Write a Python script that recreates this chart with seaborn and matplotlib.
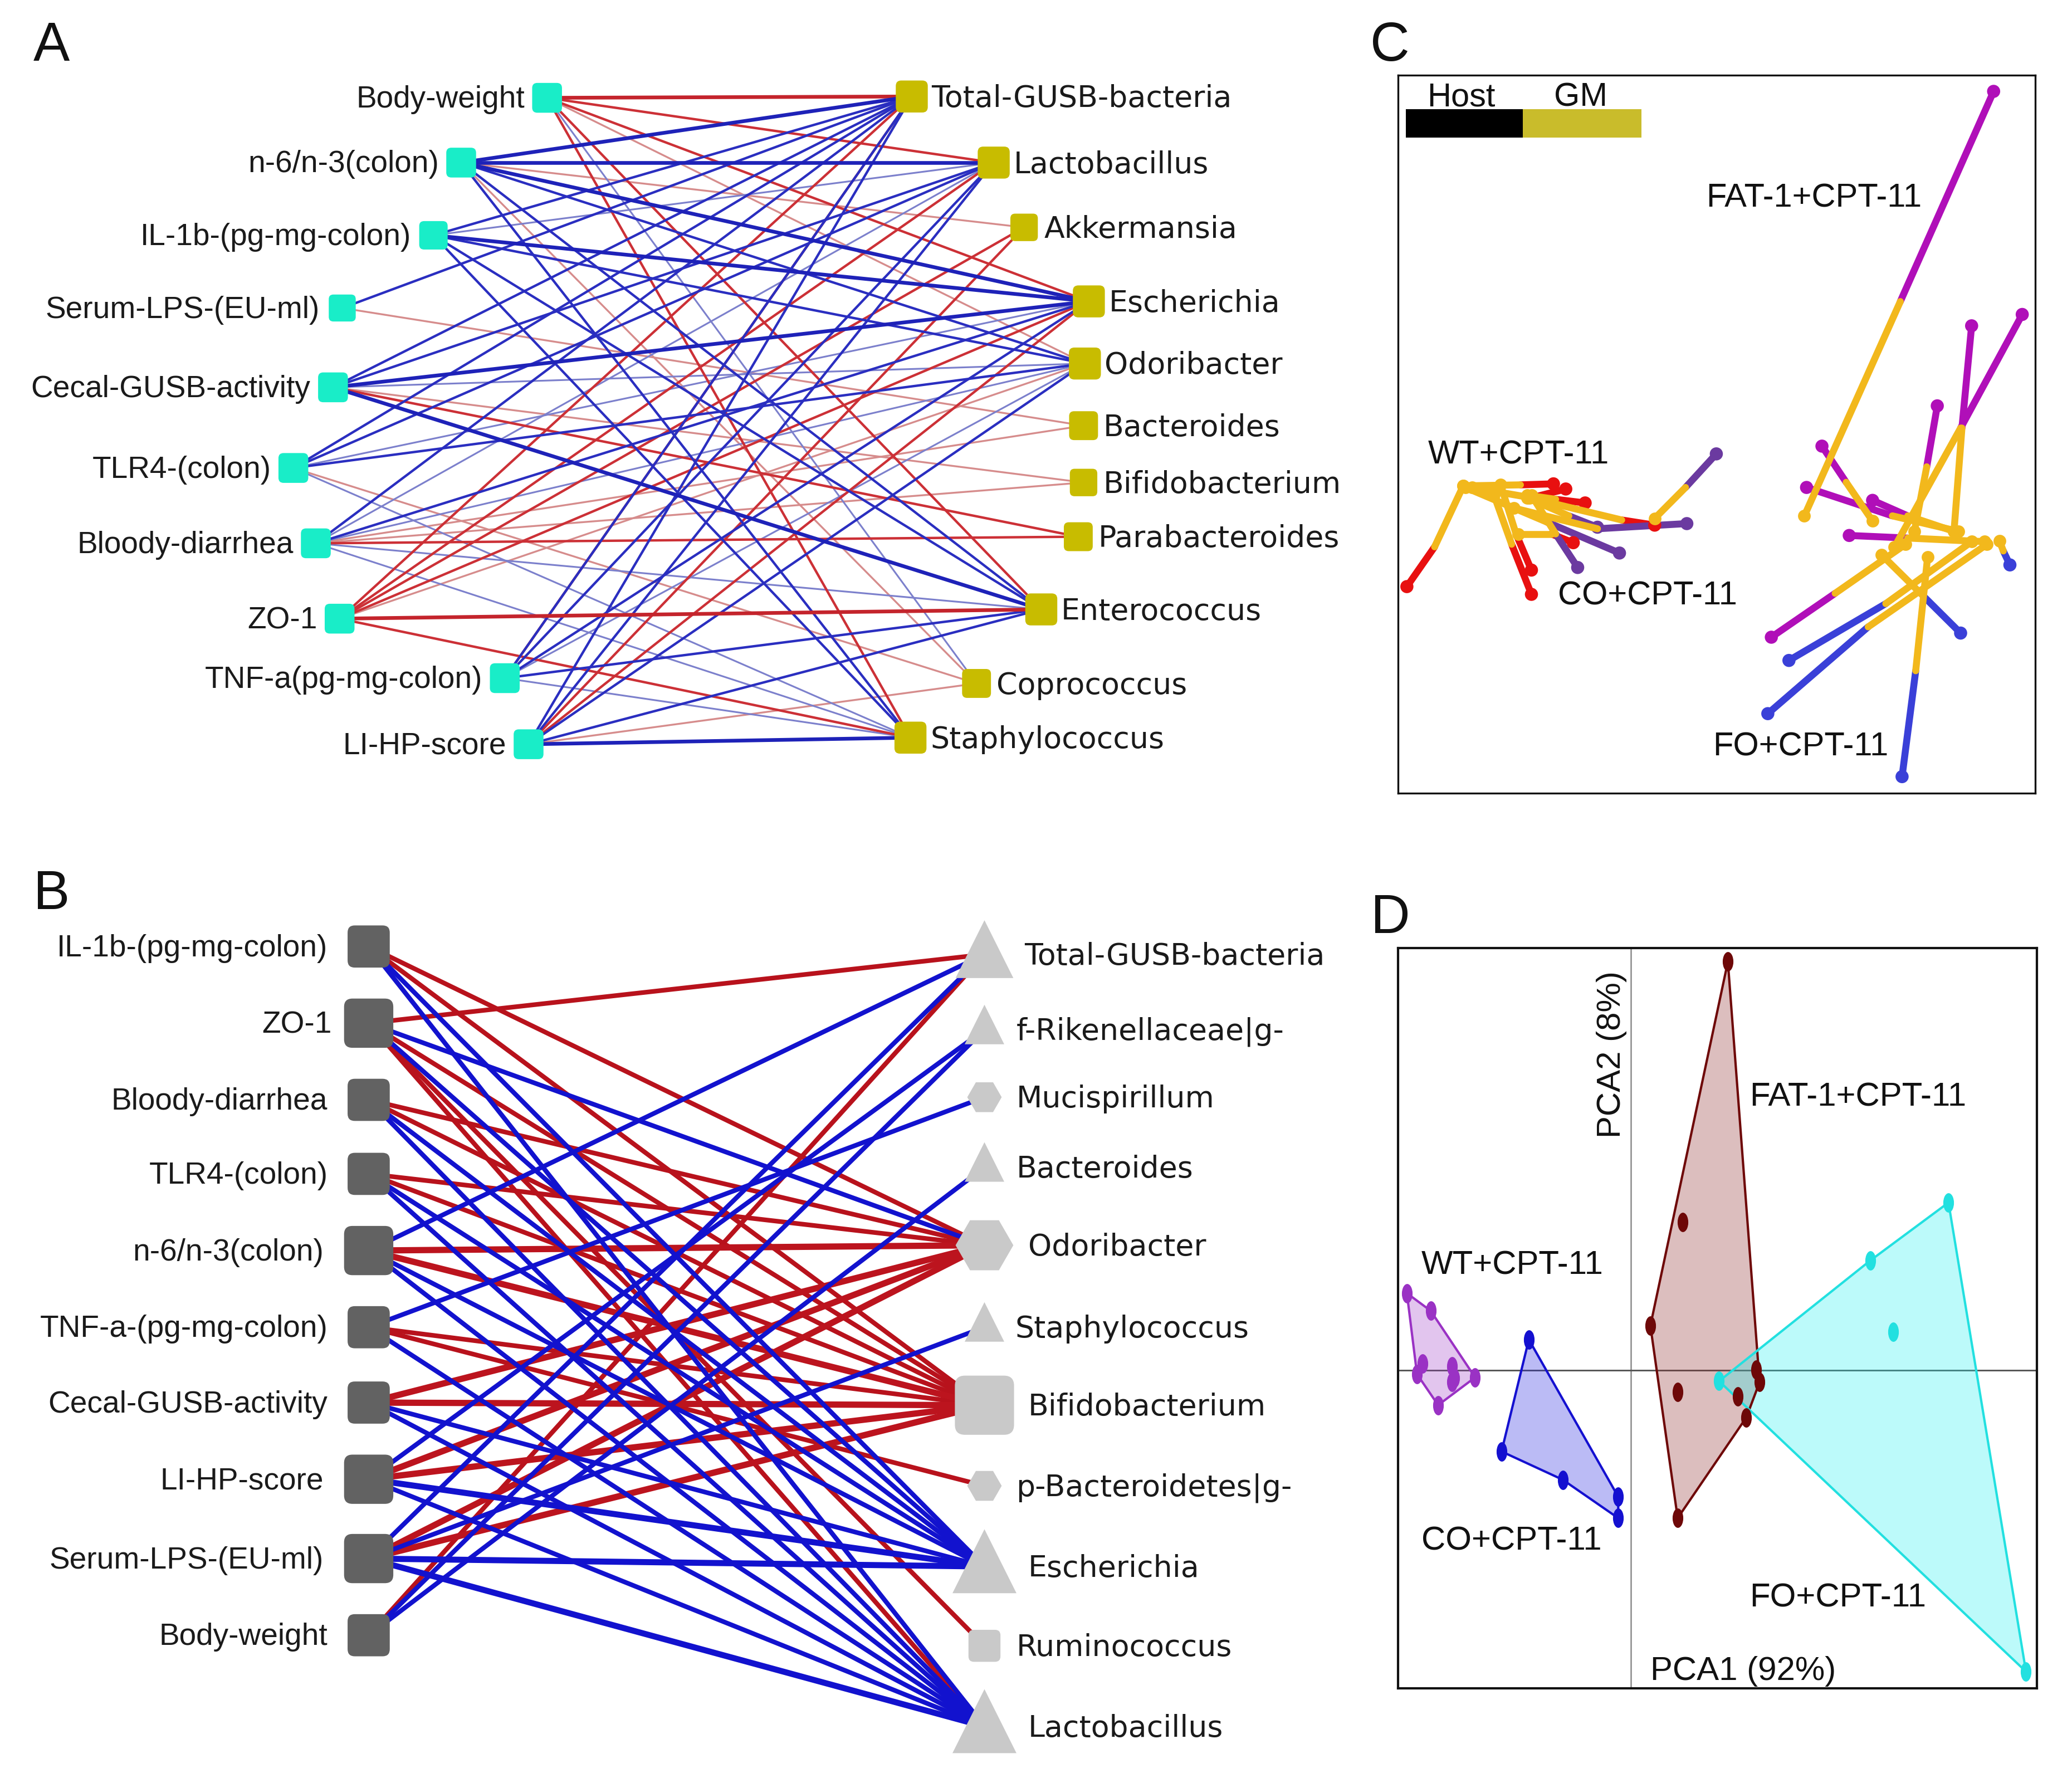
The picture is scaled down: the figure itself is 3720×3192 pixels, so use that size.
import numpy as np
import pandas as pd
import matplotlib
matplotlib.use("Agg")
import matplotlib.pyplot as plt
from matplotlib.patches import BoxStyle, Rectangle, Polygon
from matplotlib.path import Path
from matplotlib.transforms import Affine2D
import seaborn as sns

sns.set_theme(style="white")
plt.rcParams["font.family"] = ["Liberation Sans", "DejaVu Sans"]

# ---------------- Panel A network ----------------
A_left = ["Body-weight", "n-6/n-3(colon)", "IL-1b-(pg-mg-colon)", "Serum-LPS-(EU-ml)", "Cecal-GUSB-activity",
          "TLR4-(colon)", "Bloody-diarrhea", "ZO-1", "TNF-a(pg-mg-colon)", "LI-HP-score"]
A_left_x = [414, 349, 328, 259, 252, 222, 239, 257, 382, 400]
A_left_y = [74, 123, 178, 233, 293, 354, 411, 468, 513, 563]
A_right = ["Total-GUSB-bacteria", "Lactobacillus", "Akkermansia", "Escherichia", "Odoribacter", "Bacteroides",
           "Bifidobacterium", "Parabacteroides", "Enterococcus", "Coprococcus", "Staphylococcus"]
A_right_x = [690, 752, 775, 824, 821, 820, 820, 816, 788, 739, 689]
A_right_y = [73, 123, 172, 228, 275, 322, 365, 406, 461, 517, 558]
# (left, right, tier): R/B = sign, 1 strong, 2 medium, 3 faint
A_edges = [
    (0, 0, "R1"), (0, 1, "R2"), (0, 3, "R2"), (0, 4, "R3"), (0, 8, "R2"), (0, 10, "R2"), (0, 9, "B3"),
    (1, 0, "B1"), (1, 1, "B1"), (1, 3, "B1"), (1, 4, "B2"), (1, 2, "R3"), (1, 8, "B2"), (1, 10, "B2"), (1, 9, "R3"),
    (2, 0, "B2"), (2, 1, "B3"), (2, 3, "B1"), (2, 4, "B2"), (2, 8, "B2"), (2, 10, "B2"),
    (3, 0, "B2"), (3, 5, "R3"),
    (4, 0, "B2"), (4, 1, "B2"), (4, 3, "B1"), (4, 4, "B3"), (4, 7, "R2"), (4, 8, "B1"), (4, 6, "R3"),
    (5, 0, "B2"), (5, 1, "B2"), (5, 3, "B3"), (5, 4, "B2"), (5, 10, "B3"), (5, 9, "R3"),
    (6, 0, "B2"), (6, 1, "B3"), (6, 3, "B2"), (6, 4, "B3"), (6, 5, "R3"), (6, 6, "R3"), (6, 7, "R2"),
    (6, 8, "B3"), (6, 10, "B3"),
    (7, 0, "R2"), (7, 1, "R2"), (7, 2, "R2"), (7, 3, "R2"), (7, 4, "R3"), (7, 8, "R1"), (7, 10, "R2"),
    (8, 0, "B2"), (8, 0, "R2"), (8, 1, "B2"), (8, 3, "B2"), (8, 4, "B3"), (8, 8, "B2"), (8, 10, "B3"),
    (9, 0, "B2"), (9, 1, "B2"), (9, 2, "R2"), (9, 3, "R2"), (9, 4, "B2"), (9, 8, "B2"), (9, 9, "R3"), (9, 10, "B1"),
]
A_left_area = [165, 165, 150, 135, 165, 165, 165, 165, 165, 165]
A_right_area = [190, 190, 140, 190, 190, 155, 140, 155, 190, 155, 190]

# ---------------- Panel B network ----------------
B_left = ["IL-1b-(pg-mg-colon)", "ZO-1", "Bloody-diarrhea", "TLR4-(colon)", "n-6/n-3(colon)",
          "TNF-a-(pg-mg-colon)", "Cecal-GUSB-activity", "LI-HP-score", "Serum-LPS-(EU-ml)", "Body-weight"]
B_left_y = [716, 774, 832, 888, 946, 1004, 1061, 1119, 1179, 1237]
B_left_text_x = [248, 251, 248, 248, 245, 248, 248, 245, 245, 248]
B_left_area = [330, 450, 330, 330, 450, 330, 330, 450, 450, 330]
B_right = ["Total-GUSB-bacteria", "f-Rikenellaceae|g-", "Mucispirillum", "Bacteroides", "Odoribacter", "Staphylococcus",
           "Bifidobacterium", "p-Bacteroidetes|g-", "Escherichia", "Ruminococcus", "Lactobacillus"]
B_right_y = [722, 779, 830, 883, 942, 1004, 1063, 1124, 1185, 1245, 1306]
B_right_text_x = [775, 769, 769, 769, 778, 768, 778, 769, 778, 769, 778]
B_right_shape = ["^", "^", "H", "^", "H", "^", "s", "H", "^", "s", "^"]
B_right_area = [620, 290, 220, 290, 620, 290, 650, 220, 760, 190, 760]
B_edges = [
    (0, 4, "R"), (0, 6, "R"), (0, 8, "B"), (0, 10, "B"),
    (1, 0, "R"), (1, 4, "B"), (1, 6, "R"), (1, 8, "B"), (1, 9, "R"), (1, 10, "R"),
    (2, 4, "R"), (2, 6, "R"), (2, 8, "B"), (2, 10, "B"),
    (3, 4, "R"), (3, 6, "R"), (3, 8, "B"), (3, 10, "B"),
    (4, 0, "B"), (4, 4, "R+"), (4, 6, "R+"), (4, 8, "B"), (4, 10, "B"),
    (5, 2, "B"), (5, 6, "R"), (5, 7, "R"), (5, 10, "B"),
    (6, 4, "R+"), (6, 6, "R+"), (6, 8, "B"), (6, 10, "B"),
    (7, 1, "B"), (7, 4, "R+"), (7, 6, "R+"), (7, 8, "B+"), (7, 10, "B"),
    (8, 5, "B"), (8, 4, "R+"), (8, 6, "R+"), (8, 8, "B+"), (8, 10, "B+"), (8, 0, "B"),
    (9, 0, "R"), (9, 3, "B"), (9, 1, "B"),
]

# ---------------- Panel C (Procrustes) ----------------
C_groups = ["FAT-1"] * 9 + ["FO"] * 5 + ["WT"] * 8 + ["CO"] * 5
C_host_x = [1390, 1455, 1340, 1262, 1000, 965, 1115, 1062, 885, 1182, 877, 925, 1315, 1427,
            57, 340, 340, 390, 418, 462, 435, 620, 760, 693, 540, 445, 490]
C_host_y = [178, 610, 632, 787, 865, 945, 970, 1038, 1235, 1505, 1383, 1280, 1227, 1095,
            1137, 1152, 1105, 938, 948, 975, 1052, 1018, 880, 1015, 1072, 1100, 1022]
C_mid_x = [1178, 1315, 1318, 1238, 1055, 1160, 1195, 1195, 1030, 1213, 1105, 1145, 1230, 1412,
           120, 295, 305, 315, 340, 395, 385, 545, 690, 490, 375, 395, 425]
C_mid_y = [585, 830, 830, 905, 935, 1000, 1000, 1043, 1150, 1300, 1215, 1170, 1155, 1068,
           1060, 1055, 1035, 940, 965, 968, 1035, 1008, 945, 1025, 1012, 1035, 1000]
C_gm_x = [960, 1165, 1300, 1210, 1115, 1310, 1300, 1370, 1190, 1240, 1375, 1340, 1135, 1403,
          185, 255, 270, 185, 205, 330, 310, 335, 620, 300, 190, 340, 330]
C_gm_y = [1000, 1060, 1030, 1030, 1010, 1030, 1030, 1050, 1055, 1080, 1055, 1050, 1075, 1048,
          942, 960, 940, 942, 945, 960, 1035, 965, 1005, 985, 945, 960, 965]
C_labels = ["FAT-1+CPT-11", "WT+CPT-11", "CO+CPT-11", "FO+CPT-11"]
C_label_x = [737, 105, 400, 752]
C_label_y = [385, 882, 1155, 1447]
C_colors = {"FAT-1": "#B00FB8", "FO": "#3A40D8", "WT": "#E81010", "CO": "#6B3AA0"}
C_gold = "#F2B81C"

# ---------------- Panel D (PCA) ----------------
D_points = {
    "WT": ([57, 111, 92, 80, 160, 165, 160, 212, 128], [753, 786, 885, 905, 890, 912, 920, 911, 963]),
    "CO": ([334, 272, 411, 537, 537], [840, 1050, 1103, 1135, 1175]),
    "FAT-1": ([786, 683, 610, 672, 808, 850, 858, 828, 672], [131, 620, 814, 938, 947, 897, 920, 986, 1175]),
    "FO": ([1287, 1109, 1161, 766, 1463], [583, 692, 825, 918, 1463]),
}
D_hull = {"WT": [0, 1, 7, 8, 3], "CO": [0, 3, 4, 2, 1], "FAT-1": [0, 6, 7, 8, 2], "FO": [0, 4, 3, 1]}
D_colors = {"WT": "#9A32C4", "CO": "#1410D0", "FAT-1": "#6E0808", "FO": "#22E0E0"}
D_fill = {"WT": ("#9A32C4", .28), "CO": ("#2020E0", .30), "FAT-1": ("#8E2A2A", .30), "FO": ("#22F0F0", .30)}
D_labels = ["FAT-1+CPT-11", "WT+CPT-11", "CO+CPT-11", "FO+CPT-11", "PCA1 (92%)"]
D_label_x = [835, 90, 90, 835, 610]
D_label_y = [385, 701, 1218, 1325, 1463]

# ---------------- figure ----------------
W, H = 1568, 1345
fig = plt.figure(figsize=(12.4, 10.64), dpi=300, facecolor="white")


def rect(x0, y0, x1, y1):
    return [x0 / W, 1 - y1 / H, (x1 - x0) / W, (y1 - y0) / H]


net = fig.add_axes([0, 0, 1, 1])
net.set_axis_off()

rounded = BoxStyle.Round(pad=0, rounding_size=0.17)(-.5, -.5, 1, 1, 1)
ellipse = Path.unit_circle().transformed(Affine2D().scale(0.55, 1.0))


def edges_frame(lx, ly, rx, ry, edges):
    rows = []
    for i, (a, b, k) in enumerate(edges):
        rows.append(dict(x=lx[a], y=ly[a], edge=i, kind=k))
        rows.append(dict(x=rx[b], y=ry[b], edge=i, kind=k))
    return pd.DataFrame(rows)


def nodes(x, y, area, marker, color):
    df = pd.DataFrame(dict(x=x, y=y, area=area))
    sns.scatterplot(data=df, x="x", y="y", size="area", sizes={a: a for a in set(area)}, marker=marker,
                    color=color, linewidth=0, legend=False, ax=net, zorder=3)


# Panel A
df = edges_frame(A_left_x, A_left_y, A_right_x, A_right_y, A_edges)
sns.lineplot(data=df, x="x", y="y", units="edge", estimator=None, sort=False, errorbar=None,
             hue="kind", size="kind", ax=net, legend=False, zorder=1,
             hue_order=["R3", "B3", "R2", "B2", "R1", "B1"],
             palette={"R1": "#C4242C", "R2": "#CC3036", "R3": "#D68C8C", "B1": "#1E22B8", "B2": "#2A2EC0", "B3": "#7C80CC"},
             sizes={"R1": 1.6, "R2": 1.05, "R3": .8, "B1": 1.6, "B2": 1.05, "B3": .75})
nodes(A_left_x, A_left_y, A_left_area, rounded, "#19EDC8")
nodes(A_right_x, A_right_y, A_right_area, rounded, "#C8BC00")
for s, x, y in zip(A_left, A_left_x, A_left_y):
    net.text(x - 17, y + 1.5, s, ha="right", va="center", fontsize=13.2, color="#1a1a1a")
for s, x, y in zip(A_right, A_right_x, A_right_y):
    net.text(x + 15, y + 1.5, s, ha="left", va="center", fontsize=12.9, family="DejaVu Sans", color="#1a1a1a")

# Panel B
bx_l, bx_r = [279] * len(B_left), [745] * len(B_right)
df = edges_frame(bx_l, B_left_y, bx_r, B_right_y, B_edges)
sns.lineplot(data=df, x="x", y="y", units="edge", estimator=None, sort=False, errorbar=None,
             hue="kind", size="kind", ax=net, legend=False, zorder=1,
             hue_order=["R", "R+", "B", "B+"],
             palette={"R": "#B8121C", "R+": "#BC141E", "B": "#1212CE", "B+": "#1212CE"},
             sizes={"R": 2.0, "R+": 2.7, "B": 2.0, "B+": 2.6})
nodes(bx_l, B_left_y, B_left_area, rounded, "#626262")
for m, mk in (("^", "^"), ("H", "H"), ("s", rounded)):
    idx = [i for i, v in enumerate(B_right_shape) if v == m]
    nodes([bx_r[i] for i in idx], [B_right_y[i] - (4 if m == "^" else 0) for i in idx],
          [B_right_area[i] for i in idx], mk, "#C9C9C9")
for s, x, y in zip(B_left, B_left_text_x, B_left_y):
    net.text(x, y + 1.5, s, ha="right", va="center", fontsize=13.2, color="#1a1a1a")
for s, x, y in zip(B_right, B_right_text_x, B_right_y):
    net.text(x, y + 1.5, s, ha="left", va="center", fontsize=12.9, family="DejaVu Sans", color="#1a1a1a")

net.set_xlim(0, W)
net.set_ylim(H, 0)
net.set_xlabel("")
net.set_ylabel("")
for s, x, y in (("A", 39, 35), ("B", 39, 677), ("C", 1052, 35), ("D", 1052, 695)):
    net.text(x, y, s, ha="center", va="center", fontsize=23.5, color="#111111")

# Panel C
axc = fig.add_axes(rect(1058, 57, 1540, 600))
rows = []
for i, g in enumerate(C_groups):
    rows.append(dict(x=C_host_x[i], y=C_host_y[i], id=f"h{i}", group=g))
    rows.append(dict(x=C_mid_x[i], y=C_mid_y[i], id=f"h{i}", group=g))
dfh = pd.DataFrame(rows)
rows = []
for i, g in enumerate(C_groups):
    rows.append(dict(x=C_mid_x[i], y=C_mid_y[i], id=i))
    rows.append(dict(x=C_gm_x[i], y=C_gm_y[i], id=i))
dfg = pd.DataFrame(rows)
sns.lineplot(data=dfh, x="x", y="y", units="id", estimator=None, sort=False, errorbar=None, hue="group",
             palette=C_colors, linewidth=3.0, legend=False, ax=axc, zorder=2)
sns.scatterplot(x=C_host_x, y=C_host_y, hue=C_groups, palette=C_colors, s=32, linewidth=0, legend=False, ax=axc, zorder=2)
sns.lineplot(data=dfg, x="x", y="y", units="id", estimator=None, sort=False, errorbar=None, color=C_gold,
             linewidth=3.0, legend=False, ax=axc, zorder=3)
sns.scatterplot(x=C_gm_x, y=C_gm_y, color=C_gold, s=30, linewidth=0, legend=False, ax=axc, zorder=3)
axc.add_patch(Rectangle((55, 213), 265, 55, color="black", lw=0))
axc.add_patch(Rectangle((320, 213), 270, 55, color="#C9BC2B", lw=0))
axc.text(180, 190, "Host", ha="center", va="center", fontsize=14.3, color="#111111")
axc.text(452, 190, "GM", ha="center", va="center", fontsize=14.3, color="#111111")
for s, x, y in zip(C_labels, C_label_x, C_label_y):
    axc.text(x, y, s, ha="left", va="center", fontsize=14.3, color="#111111")
axc.set_xlim(37, 1484)
axc.set_ylim(1537, 147)

# Panel D
axd = fig.add_axes(rect(1058, 717, 1541.5, 1277))
axd.axvline(566, color="#8a8a8a", lw=.6, zorder=1)
axd.axhline(898, color="#555555", lw=.7, zorder=1)
for g, (px, py) in D_points.items():
    hx = [px[i] for i in D_hull[g]]
    hy = [py[i] for i in D_hull[g]]
    fc, al = D_fill[g]
    axd.add_patch(Polygon(np.c_[hx, hy], closed=True, facecolor=fc, alpha=al, lw=0, zorder=2))
    axd.add_patch(Polygon(np.c_[hx, hy], closed=True, fill=False, edgecolor=D_colors[g], lw=1.0, zorder=3))
    sns.scatterplot(x=px, y=py, color=D_colors[g], marker=ellipse, s=70, linewidth=0, legend=False, ax=axd, zorder=4)
for s, x, y in zip(D_labels, D_label_x, D_label_y):
    axd.text(x, y, s, ha="left", va="center", fontsize=14.4, color="#111111")
axd.text(522, 305, "PCA2 (8%)", rotation=90, ha="center", va="center", fontsize=14.4, color="#111111")
axd.set_xlim(37, 1488)
axd.set_ylim(1494, 105)

for a in (axc, axd):
    a.set_xticks([])
    a.set_yticks([])
    a.set_xlabel("")
    a.set_ylabel("")
    for sp in a.spines.values():
        sp.set_visible(True)
        sp.set_color("#111111")
        sp.set_linewidth(.8 if a is axc else 1.0)

fig.savefig("out.png", dpi=300, facecolor="white")
